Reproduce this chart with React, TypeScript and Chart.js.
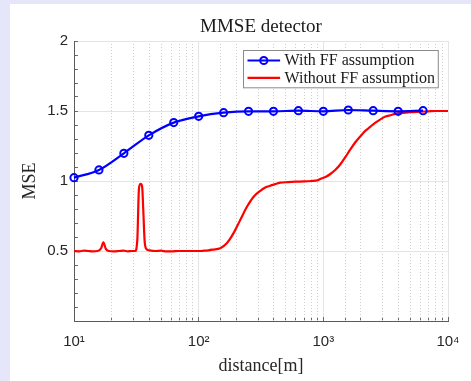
import React, { useEffect, useRef } from 'react';
import { Chart, registerables } from 'chart.js';

Chart.register(...registerables);

// ---- data ----
const withFFDistance = [10, 15.85, 25.12, 39.81, 63.1, 100, 158.5, 251.2, 398.1, 631, 1000, 1585, 2512, 3981, 6310];
const withFFMse = [1.024, 1.079, 1.198, 1.326, 1.417, 1.462, 1.488, 1.498, 1.498, 1.502, 1.498, 1.507, 1.502, 1.498, 1.502];

const withoutFFDistance = [
  10, 11, 12, 13, 14, 15.5, 16.5, 17.2, 18, 19, 21, 23, 25, 27, 29, 30.9,
  32.2, 33.2, 34.3, 35.2, 36, 36.8, 38, 40, 45, 50, 55, 60, 70, 80, 90, 100,
  110, 120, 130, 149, 168, 190, 215, 244, 276, 312, 345, 375, 410, 452, 520,
  600, 700, 800, 900, 946, 1050, 1138, 1250, 1370, 1500, 1648, 1800, 1983,
  2180, 2387, 2600, 2871, 3150, 3453, 3800, 4154, 5000, 6010, 7000, 8000, 10000,
];
const withoutFFMse = [
  0.5, 0.498, 0.502, 0.5, 0.498, 0.5, 0.52, 0.562, 0.515, 0.5, 0.498, 0.5, 0.502, 0.498, 0.5, 0.5,
  0.58, 0.948, 0.98, 0.96, 0.78, 0.58, 0.515, 0.505, 0.5, 0.502, 0.497, 0.497, 0.5, 0.5, 0.5, 0.5,
  0.502, 0.505, 0.51, 0.52, 0.555, 0.626, 0.72, 0.816, 0.888, 0.93, 0.955, 0.966, 0.978, 0.988, 0.992,
  0.995, 0.997, 1.0, 1.005, 1.015, 1.03, 1.05, 1.08, 1.12, 1.17, 1.226, 1.275, 1.32,
  1.36, 1.388, 1.415, 1.44, 1.46, 1.47, 1.48, 1.485, 1.492, 1.495, 1.498, 1.5, 1.5,
];

const xTickLabels: Record<number, string> = { 10: '10\u00B9', 100: '10\u00B2', 1000: '10\u00B3', 10000: '10\u2074' };
const yTickLabels: Record<string, string> = { '0.5': '0.5', '1': '1', '1.5': '1.5', '2': '2' };

const seriesLabels = ['With FF assumption', 'Without FF assumption'];
const chartTitle = 'MMSE detector';
const xTitle = 'distance[m]';
const yTitle = 'MSE';

const isDecade = (v: number) => {
  const l = Math.log10(v);
  return Math.abs(l - Math.round(l)) < 1e-9;
};
const isHalf = (v: number) => Math.abs(v * 2 - Math.round(v * 2)) < 1e-6;

const serif = 'Liberation Serif';
const sans = 'Liberation Sans';

const legendBoxPlugin = {
  id: 'legendBox',
  afterDraw(chart: any) {
    const { ctx, chartArea } = chart;
    const ds = chart.data.datasets;
    ctx.save();
    ctx.font = `16px "${serif}"`;
    const textW = Math.max(...ds.map((d: any) => ctx.measureText(d.label).width));
    const padL = 4, lineLen = 32.6, gap = 4.4, padR = 3.3;
    const w = padL + lineLen + gap + textW + padR;
    const h = 37.3;
    const x = Math.round(chartArea.right - 10 - w) + 0.5;
    const y = Math.round(chartArea.top + 9) + 0.5;
    ctx.fillStyle = '#ffffff';
    ctx.fillRect(x, y, w, h);
    ctx.strokeStyle = '#8a8a8a';
    ctx.lineWidth = 1;
    ctx.strokeRect(x, y, w, h);
    ds.forEach((d: any, i: number) => {
      const ry = y + 10 + i * 17.3;
      ctx.strokeStyle = d.borderColor;
      ctx.lineWidth = d.borderWidth;
      ctx.beginPath();
      ctx.moveTo(x + padL, ry);
      ctx.lineTo(x + padL + lineLen, ry);
      ctx.stroke();
      if (d.pointRadius > 0) {
        ctx.lineWidth = d.pointBorderWidth;
        ctx.beginPath();
        ctx.arc(x + padL + lineLen / 2, ry, d.pointRadius, 0, Math.PI * 2);
        ctx.stroke();
      }
      ctx.fillStyle = '#1a1a1a';
      ctx.textBaseline = 'middle';
      ctx.textAlign = 'left';
      ctx.fillText(d.label, x + padL + lineLen + gap, ry + 0.5);
    });
    ctx.restore();
  },
};

export default function App() {
  const ref = useRef<HTMLCanvasElement | null>(null);

  useEffect(() => {
    if (!ref.current) return;
    Chart.defaults.font.family = sans;
    const chart = new Chart(ref.current, {
      type: 'line',
      data: {
        datasets: [
          {
            label: seriesLabels[0],
            data: withFFDistance.map((x, i) => ({ x, y: withFFMse[i] })),
            borderColor: '#0000ff',
            borderWidth: 2.2,
            pointRadius: 3.6,
            pointBorderWidth: 2,
            pointBorderColor: '#0000ff',
            pointBackgroundColor: 'rgba(0,0,0,0)',
            cubicInterpolationMode: 'monotone',
            clip: false as any,
            xAxisID: 'x',
            yAxisID: 'y',
          },
          {
            label: seriesLabels[1],
            data: withoutFFDistance.map((x, i) => ({ x, y: withoutFFMse[i] })),
            borderColor: '#ff0000',
            borderWidth: 2.2,
            pointRadius: 0,
            pointBorderWidth: 0,
            cubicInterpolationMode: 'monotone',
            xAxisID: 'x',
            yAxisID: 'y',
          },
        ],
      },
      options: {
        animation: false,
        responsive: false,
        devicePixelRatio: 1,
        layout: { padding: { left: 0, right: 23, top: 0, bottom: 0 } },
        plugins: {
          legend: { display: false },
          tooltip: { enabled: false },
          title: {
            display: true,
            text: chartTitle,
            fullSize: false,
            color: '#1a1a1a',
            font: { family: serif, size: 19, weight: 'normal' },
            padding: { top: 11.6, bottom: 2.6 },
          },
        },
        scales: {
          x: {
            type: 'logarithmic',
            position: 'bottom',
            min: 10,
            max: 10000,
            afterFit: (s: any) => { s.height = 60; s.paddingLeft = 0; s.paddingRight = 0; },
            border: { display: true, color: '#5a5a5a', width: 1 },
            grid: {
              drawOnChartArea: true,
              drawTicks: true,
              tickLength: -4,
              tickColor: '#6a6a6a',
              color: (c: any) => (c.tick && isDecade(c.tick.value) ? '#e4e4e4' : 'rgba(0,0,0,0)'),
              lineWidth: 1,
            },
            ticks: {
              autoSkip: false,
              maxRotation: 0,
              padding: 16,
              color: '#262626',
              font: { family: sans, size: 15 },
              callback: (v: any) => xTickLabels[Math.round(Number(v))] || '',
            },
            title: {
              display: true,
              text: xTitle,
              color: '#262626',
              font: { family: serif, size: 18 },
              padding: { top: 0, bottom: 4 },
            },
          },
          xm: {
            type: 'logarithmic',
            position: 'bottom',
            min: 10,
            max: 10000,
            afterFit: (s: any) => { s.height = 0; s.paddingLeft = 0; s.paddingRight = 0; },
            border: { display: false, dash: [1, 2] },
            grid: {
              drawOnChartArea: true,
              drawTicks: false,
              color: (c: any) => (c.tick && !isDecade(c.tick.value) ? '#cdcdcd' : 'rgba(0,0,0,0)'),
              lineWidth: 1,
            },
            ticks: { display: false, autoSkip: false },
          },
          y: {
            type: 'linear',
            position: 'left',
            min: 0,
            max: 2,
            afterFit: (s: any) => { s.width = 64; },
            border: { display: true, color: '#5a5a5a', width: 1 },
            grid: {
              drawTicks: true,
              tickLength: -4,
              tickColor: '#6a6a6a',
              color: (c: any) => (c.tick && isHalf(c.tick.value) ? '#e4e4e4' : 'rgba(0,0,0,0)'),
              lineWidth: 1,
            },
            ticks: {
              stepSize: 0.1,
              autoSkip: false,
              padding: 10,
              color: '#262626',
              font: { family: sans, size: 15 },
              callback: (v: any) => yTickLabels[String(Math.round(Number(v) * 10) / 10)] || '',
            },
            title: {
              display: true,
              text: yTitle,
              color: '#262626',
              font: { family: serif, size: 18 },
              padding: { top: 9, bottom: 0 },
            },
          },
        },
      } as any,
      plugins: [legendBoxPlugin],
    });
    return () => chart.destroy();
  }, []);

  return (
    <div style={{ position: 'fixed', left: 0, top: 0, width: 471, height: 381, background: '#e6e6fa', overflow: 'hidden' }}>
      <div style={{ position: 'absolute', left: 10, top: 4, width: 461, height: 377, background: '#ffffff' }}>
        <canvas ref={ref} width={461} height={377} style={{ display: 'block' }} />
      </div>
    </div>
  );
}
